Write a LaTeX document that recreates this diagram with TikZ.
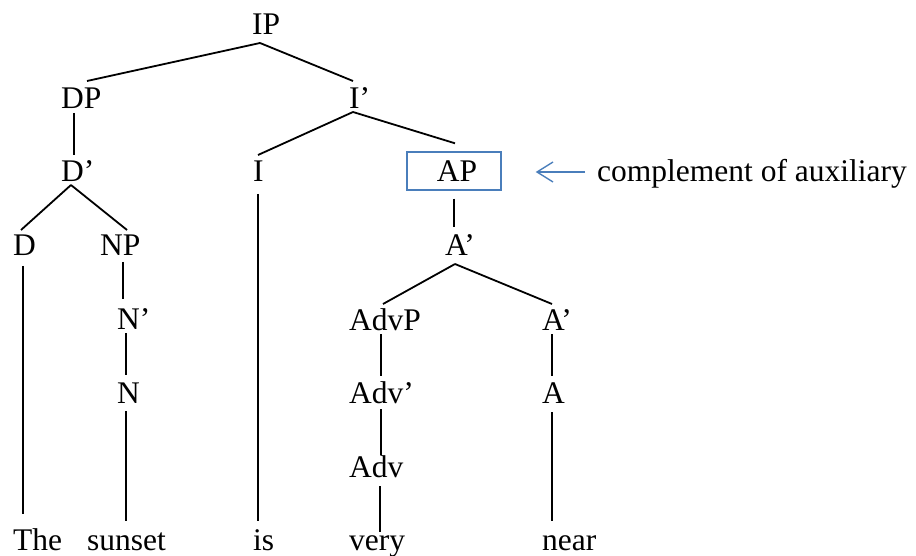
\documentclass[tikz,border=0pt]{standalone}
\usepackage{fontspec}
\setmainfont{Liberation Serif}
\usetikzlibrary{arrows.meta}
\definecolor{accent}{HTML}{4A7EBB}
\begin{document}
\begin{tikzpicture}[x=1pt,y=-1pt,
  lab/.style={inner sep=0pt, anchor=base west, font=\fontsize{31.5}{36}\selectfont},
  branch/.style={draw=black, line width=1.8pt},
  framed/.style={draw=accent, line width=1.4pt, minimum width=94pt, minimum height=38pt,
    inner sep=0pt, font=\fontsize{31.5}{36}\selectfont},
  pointer/.style={draw=accent, line width=1.4pt, -{Straight Barb[length=16pt,width=20pt,line width=1.4pt]}}
]
\useasboundingbox (0,0) rectangle (916,556);

% labels of the tree
\node[lab] (IP)    at (252,35)  {IP};
\node[lab] (DP)    at (61,109)  {DP};
\node[lab] (Ibar)  at (349,109) {I’};
\node[lab] (Dbar)  at (61,182)  {D’};
\node[lab] (I)     at (253,182) {I};
\node[framed] (AP) at (454,171) {\hspace*{6pt}AP};
\node[lab] (D)     at (13,256)  {D};
\node[lab] (NP)    at (100,256) {NP};
\node[lab] (Abar)  at (445,256) {A’};
\node[lab] (Nbar)  at (117,329) {N’};
\node[lab] (AdvP)  at (349,330) {AdvP};
\node[lab] (Abarr) at (542,330) {A’};
\node[lab] (N)     at (117,403) {N};
\node[lab] (Advbar) at (349,403) {Adv’};
\node[lab] (A)     at (542,403) {A};
\node[lab] (Adv)   at (349,477) {Adv};
\node[lab] (The)   at (13,550)  {The};
\node[lab] (sunset) at (87,550) {sunset};
\node[lab] (is)    at (253,550) {is};
\node[lab] (very)  at (349,550) {very};
\node[lab] (near)  at (542,550) {near};
\node[lab] (note)  at (597,182) {complement of auxiliary};

% branches
\draw[branch] ([shift={(8,8)}]IP.base west) -- ([shift={(26,-28)}]DP.base west);
\draw[branch] ([shift={(8,8)}]IP.base west) -- ([shift={(4,-28)}]Ibar.base west);
\draw[branch] ([shift={(13,4)}]DP.base west) -- ([shift={(13,-27)}]Dbar.base west);
\draw[branch] ([shift={(4,3)}]Ibar.base west) -- ([shift={(5,-27)}]I.base west);
\draw[branch] ([shift={(4,3)}]Ibar.base west) -- ([shift={(1,-8)}]AP.north);
\draw[branch] ([shift={(10,3)}]Dbar.base west) -- ([shift={(8,-26)}]D.base west);
\draw[branch] ([shift={(10,3)}]Dbar.base west) -- ([shift={(27,-26)}]NP.base west);
\draw[branch] ([shift={(5,12)}]I.base west) -- ([shift={(5,-29)}]is.base west);
\draw[branch] ([shift={(0,8)}]AP.south) -- ([shift={(9,-29)}]Abar.base west);
\draw[branch] ([shift={(10,10)}]D.base west) -- ([shift={(10,-36)}]The.base west);
\draw[branch] ([shift={(23,6)}]NP.base west) -- ([shift={(6,-30)}]Nbar.base west);
\draw[branch] ([shift={(10,8)}]Abar.base west) -- ([shift={(34,-26)}]AdvP.base west);
\draw[branch] ([shift={(10,8)}]Abar.base west) -- ([shift={(10,-26)}]Abarr.base west);
\draw[branch] ([shift={(9,4)}]Nbar.base west) -- ([shift={(9,-28)}]N.base west);
\draw[branch] ([shift={(9,8)}]N.base west) -- ([shift={(39,-29)}]sunset.base west);
\draw[branch] ([shift={(32,4)}]AdvP.base west) -- ([shift={(32,-27)}]Advbar.base west);
\draw[branch] ([shift={(10,4)}]Abarr.base west) -- ([shift={(10,-27)}]A.base west);
\draw[branch] ([shift={(32,6)}]Advbar.base west) -- ([shift={(32,-22)}]Adv.base west);
\draw[branch] ([shift={(31,9)}]Adv.base west) -- ([shift={(31,-18)}]very.base west);
\draw[branch] ([shift={(10,9)}]A.base west) -- ([shift={(10,-29)}]near.base west);

% annotation arrow
\draw[pointer] ([shift={(-12,-10)}]note.base west) -- ([shift={(34,1)}]AP.east);
\end{tikzpicture}
\end{document}
